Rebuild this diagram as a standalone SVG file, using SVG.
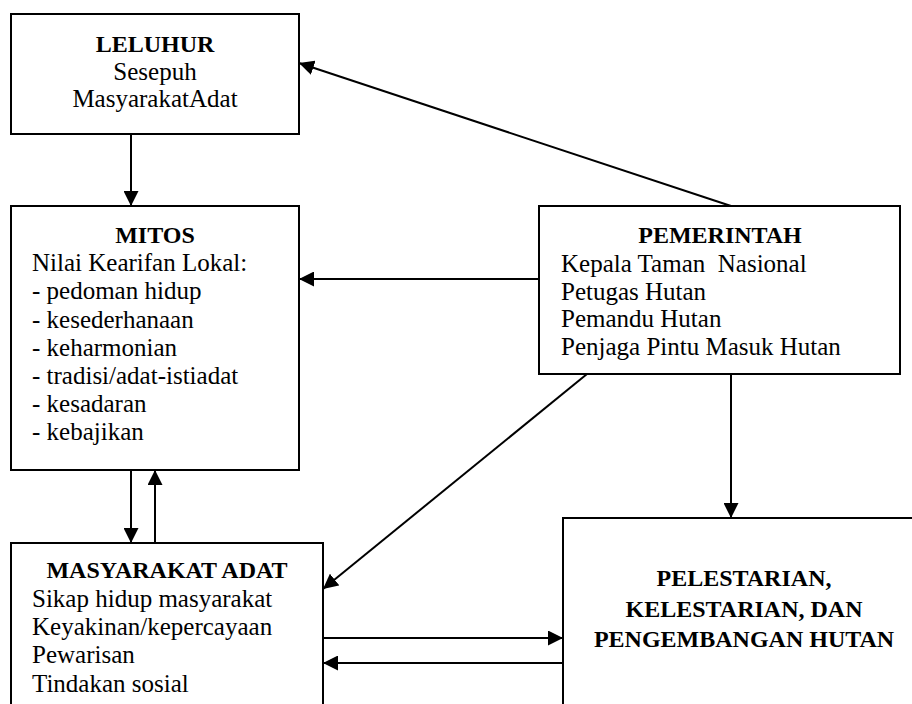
<svg xmlns="http://www.w3.org/2000/svg" width="912" height="704" viewBox="0 0 912 704">
<style>
.box{fill:#fff;stroke:#000;stroke-width:2}
.t{font-family:"Liberation Serif","Times New Roman",serif;font-size:25px;fill:#000;white-space:pre}
.b{font-weight:bold;font-size:24px}
.c{text-anchor:middle}
.ln{stroke:#000;stroke-width:2;fill:none;marker-end:url(#ah)}
</style>
<defs>
<marker id="ah" markerUnits="userSpaceOnUse" markerWidth="15" markerHeight="15" refX="14" refY="7" orient="auto" viewBox="0 0 14 14">
<path d="M0,0 L14,7 L0,14 z" fill="#000"/>
</marker>
</defs>
<rect width="912" height="704" fill="#fff"/>
<g id="leluhur">
<rect class="box" x="11" y="14" width="288" height="120"/>
<text class="t b c" x="155" y="52">LELUHUR</text>
<text class="t c" x="155" y="80">Sesepuh</text>
<text class="t c" x="155" y="107">MasyarakatAdat</text>
</g>
<g id="mitos">
<rect class="box" x="11" y="206" width="288" height="264"/>
<text class="t b c" x="155" y="243">MITOS</text>
<text class="t" x="32" y="271">Nilai Kearifan Lokal:</text>
<text class="t" x="32" y="299">- pedoman hidup</text>
<text class="t" x="32" y="328">- kesederhanaan</text>
<text class="t" x="32" y="356">- keharmonian</text>
<text class="t" x="32" y="384">- tradisi/adat-istiadat</text>
<text class="t" x="32" y="412">- kesadaran</text>
<text class="t" x="32" y="440">- kebajikan</text>
</g>
<g id="pemerintah">
<rect class="box" x="539" y="206" width="361" height="168"/>
<text class="t b c" x="720" y="243">PEMERINTAH</text>
<text class="t" x="561" y="272">Kepala Taman  Nasional</text>
<text class="t" x="561" y="300">Petugas Hutan</text>
<text class="t" x="561" y="327">Pemandu Hutan</text>
<text class="t" x="561" y="355">Penjaga Pintu Masuk Hutan</text>
</g>
<g id="masyarakat">
<rect class="box" x="11" y="543" width="312" height="200"/>
<text class="t b c" x="167" y="578">MASYARAKAT ADAT</text>
<text class="t" x="32" y="607">Sikap hidup masyarakat</text>
<text class="t" x="32" y="635">Keyakinan/kepercayaan</text>
<text class="t" x="32" y="663">Pewarisan</text>
<text class="t" x="32" y="692">Tindakan sosial</text>
</g>
<g id="pelestarian">
<rect class="box" x="563" y="518" width="400" height="250"/>
<text class="t b c" x="744" y="586">PELESTARIAN,</text>
<text class="t b c" x="744" y="617">KELESTARIAN, DAN</text>
<text class="t b c" x="744" y="647">PENGEMBANGAN HUTAN</text>
</g>
<g id="connectors">
<line class="ln" x1="131" y1="134" x2="131" y2="206"/>
<line class="ln" x1="731" y1="206" x2="299" y2="63"/>
<line class="ln" x1="539" y1="279" x2="299" y2="279"/>
<line class="ln" x1="587" y1="374" x2="323" y2="589"/>
<line class="ln" x1="731" y1="374" x2="731" y2="518"/>
<line class="ln" x1="131" y1="470" x2="131" y2="543"/>
<line class="ln" x1="155" y1="543" x2="155" y2="470"/>
<line class="ln" x1="323" y1="638" x2="563" y2="638"/>
<line class="ln" x1="563" y1="663" x2="323" y2="663"/>
</g>
</svg>
